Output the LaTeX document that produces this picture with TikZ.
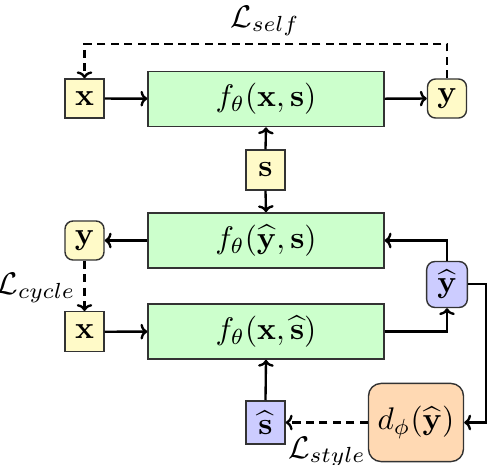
\documentclass[tikz,border=0pt]{standalone}
\usetikzlibrary{calc,arrows.meta}
\definecolor{cyel}{RGB}{255,250,200}
\definecolor{cgrn}{RGB}{204,255,204}
\definecolor{cblu}{RGB}{204,204,255}
\definecolor{corg}{RGB}{255,217,179}
\begin{document}
\begin{tikzpicture}[x=0.32pt,y=-0.32pt,
  base/.style={draw=black!80, line width=0.45pt, inner sep=0pt, align=center},
  ybox/.style={base, fill=cyel, minimum width=12.5pt, minimum height=12.5pt},
  yround/.style={ybox, rounded corners=2.6pt},
  gbox/.style={base, fill=cgrn, minimum width=75.5pt, minimum height=17.7pt},
  bbox/.style={base, fill=cblu, minimum width=12.5pt},
  obox/.style={base, fill=corg, rounded corners=4pt, minimum width=30.4pt, minimum height=25pt},
  conn/.style={line width=0.75pt, -{To[length=2.2pt,width=5pt]}},
  dconn/.style={conn, dash pattern=on 2.6pt off 1.7pt},
  lbl/.style={inner sep=0pt}
]
\useasboundingbox (0,0) rectangle (488,464);
% nodes
\node[ybox] (x1) at (84.5,98.5) {$\mathbf{x}$};
\node[gbox] (f1) at (266,99) {$f_\theta(\mathbf{x},\mathbf{s})$};
\node[yround] (y1) at (447,98.5) {$\mathbf{y}$};
\node[ybox, minimum height=12.8pt] (s) at (265.5,170) {$\mathbf{s}$};
\node[gbox] (f2) at (266,240.5) {$f_\theta(\widehat{\mathbf{y}},\mathbf{s})$};
\node[yround] (yL) at (84.5,240.5) {$\mathbf{y}$};
\node[bbox, rounded corners=2.6pt, minimum width=13pt, minimum height=14.7pt] (yh) at (447,284.5) {$\widehat{\mathbf{y}}$};
\node[ybox, minimum height=12.8pt] (x2) at (84.5,331.7) {$\mathbf{x}$};
\node[gbox] (f3) at (266,331.5) {$f_\theta(\mathbf{x},\widehat{\mathbf{s}})$};
\node[bbox, minimum height=13.8pt] (sh) at (265.5,422.5) {$\widehat{\mathbf{s}}$};
\node[obox] (d) at (416,422.5) {$d_\phi(\widehat{\mathbf{y}})$};
% labels
\node[lbl] (Lself) at (265,21) {$\mathcal{L}_{self}$};
\node[lbl] (Lcyc) at (36,288) {$\mathcal{L}_{cycle}$};
\node[lbl] (Lsty) at (327,452) {$\mathcal{L}_{style}$};
% helper coordinates
\coordinate (ctop) at (265,43.7);
\coordinate (cr) at (486,284);
% connectors
\draw[conn] (x1) -- (f1);
\draw[conn] (f1) -- (y1);
\draw[dconn] (y1.north) |- (ctop) -| (x1.north);
\draw[conn] (s.north) -- (f1.south);
\draw[conn] (s.south) -- (f2.north);
\draw[conn] (yh.north) |- (f2.east);
\draw[conn] (f2.west) -- (yL.east);
\draw[dconn] (yL.south) -- (x2.north);
\draw[conn] (x2) -- (f3);
\draw[conn] (f3.east) -| (yh.south);
\draw[conn] (yh.east |- cr) -- (cr) |- (d.east);
\draw[conn] (sh.north) -- (f3.south);
\draw[dconn] (d.west) -- (sh.east);
\end{tikzpicture}
\end{document}
